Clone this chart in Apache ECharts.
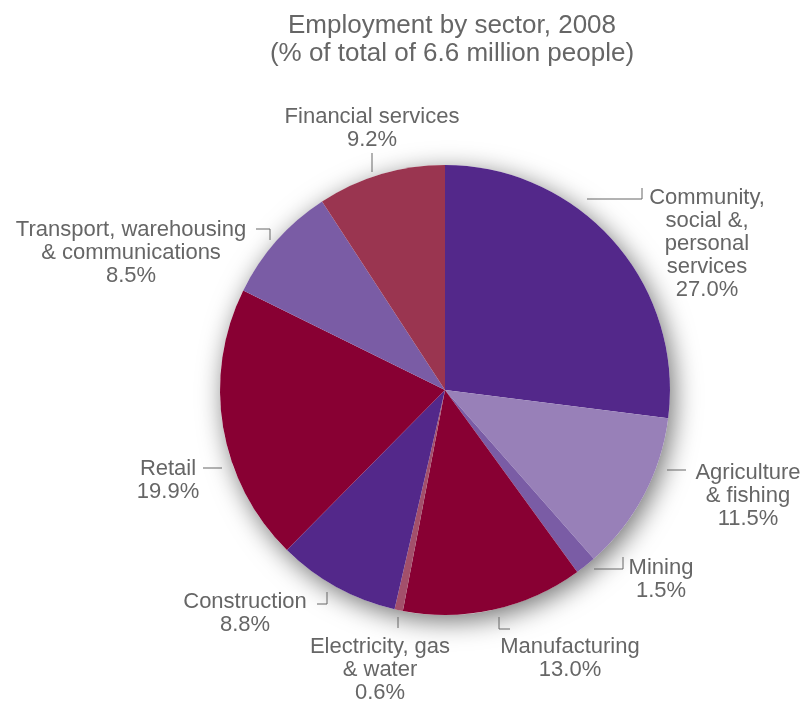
<!DOCTYPE html>
<html>
<head>
<meta charset="utf-8">
<script src="https://cdn.jsdelivr.net/npm/echarts@6/dist/echarts.min.js"></script>
<style>
  html, body { margin: 0; padding: 0; background: #fff; }
  #chart { width: 807px; height: 703px; }
</style>
</head>
<body>
<div id="chart"></div>
<script>
// Employment by sector, 2008 — share of total employment (%)
const sectors = [
  'Community,\nsocial &,\npersonal\nservices',
  'Agriculture\n& fishing',
  'Mining',
  'Manufacturing',
  'Electricity, gas\n& water',
  'Construction',
  'Retail',
  'Transport, warehousing\n& communications',
  'Financial services'
];
const shares = [27.0, 11.5, 1.5, 13.0, 0.6, 8.8, 19.9, 8.5, 9.2];
const sliceColors = ['#53288a', '#9880b8', '#7a5ca5', '#880033', '#a3506b',
                     '#53288a', '#880033', '#7a5ca5', '#9a3550'];

// Label placement: text anchor (centre x, top y) and the small elbow leader beside it
const labelSpots = [
  { x: 707, y: 186, line: [[587, 199], [642, 199], [642, 188]] },
  { x: 748, y: 461, line: [[667, 470], [676, 470], [686, 470]] },
  { x: 661, y: 556, line: [[594, 569], [623, 569], [623, 557]] },
  { x: 570, y: 635, line: [[499, 617], [499, 629], [510, 629]] },
  { x: 380, y: 635, line: [[398, 617], [398, 623], [398, 628]] },
  { x: 245, y: 590, line: [[317, 604], [327, 604], [327, 592]] },
  { x: 168, y: 457, line: [[203, 468], [213, 468], [222, 468]] },
  { x: 131, y: 218, line: [[256, 229], [270, 229], [270, 240]] },
  { x: 372, y: 105, line: [[372, 153], [372, 163], [372, 172]] }
];

const total = shares.reduce((a, b) => a + b, 0);
const textColor = '#666666';
const fontFamily = '"Liberation Sans", Arial, Helvetica, sans-serif';
const pieCenter = [445, 390];
const pieRadius = 225;

const chart = echarts.init(document.getElementById('chart'), null, { renderer: 'canvas' });

chart.setOption({
  animation: false,
  backgroundColor: '#ffffff',
  title: {
    text: 'Employment by sector, 2008\n(% of total of 6.6 million people)',
    left: 447,
    top: 7,
    textAlign: 'center',
    textStyle: {
      color: textColor,
      fontSize: 26,
      fontWeight: 'normal',
      lineHeight: 28,
      fontFamily: fontFamily
    }
  },
  series: [
    {
      // soft drop shadow under the whole disc
      type: 'pie',
      silent: true,
      z: 1,
      center: pieCenter,
      radius: pieRadius,
      label: { show: false },
      labelLine: { show: false },
      itemStyle: {
        color: '#ffffff',
        shadowBlur: 26,
        shadowColor: 'rgba(0,0,0,0.55)',
        shadowOffsetX: 4,
        shadowOffsetY: 6
      },
      data: [{ value: total, name: 'all' }]
    },
    {
      type: 'pie',
      z: 2,
      center: pieCenter,
      radius: pieRadius,
      startAngle: 90,
      clockwise: true,
      avoidLabelOverlap: false,
      itemStyle: { borderWidth: 0 },
      label: {
        show: true,
        position: 'outside',
        color: textColor,
        fontSize: 22,
        lineHeight: 23,
        fontFamily: fontFamily,
        align: 'center',
        formatter: p => p.name + '\n' + p.value.toFixed(1) + '%'
      },
      labelLine: {
        show: true,
        length: 10,
        length2: 10,
        smooth: false,
        lineStyle: { color: textColor, width: 1 }
      },
      labelLayout: params => {
        const spot = labelSpots[params.dataIndex];
        return {
          x: spot.x,
          y: spot.y,
          align: 'center',
          verticalAlign: 'top',
          labelLinePoints: spot.line
        };
      },
      emphasis: { disabled: true },
      data: sectors.map((name, i) => ({
        name: name,
        value: shares[i],
        itemStyle: { color: sliceColors[i] }
      }))
    }
  ]
});
</script>
</body>
</html>
